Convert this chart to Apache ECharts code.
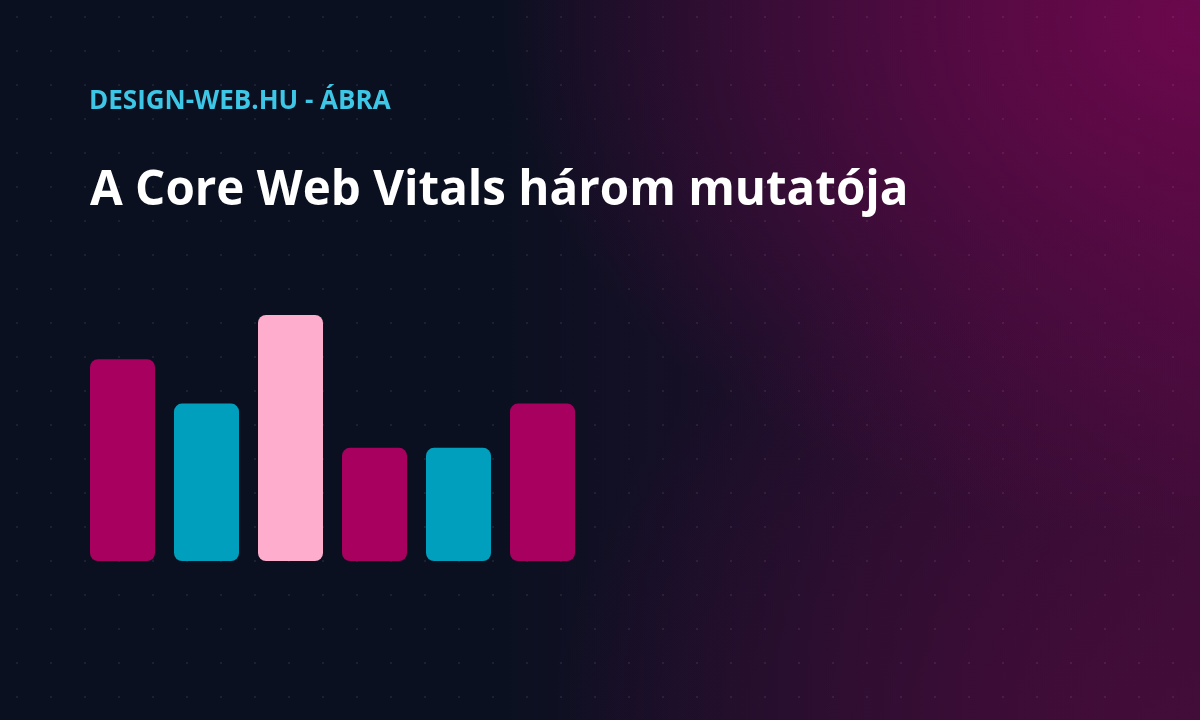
<!DOCTYPE html>
<html>

<head>
    <title>A Core Web Vitals három mutatója</title>
    <meta charset="utf-8">
    <script src="https://cdn.jsdelivr.net/npm/echarts@6/dist/echarts.min.js"></script>
    <style>
        html, body { margin: 0; padding: 0; }
        body {
            width: 1200px;
            height: 720px;
            overflow: hidden;
            /* faint dot grid + magenta glow on the right */
            background:
                radial-gradient(circle, rgba(255,255,255,0.07) 1px, transparent 1.5px) 0 0 / 34px 34px,
                radial-gradient(ellipse 700px 520px at 1200px 20px, rgba(110,8,78,0.95), rgba(110,8,78,0) 100%),
                radial-gradient(ellipse 600px 500px at 1150px 720px, rgba(70,12,58,0.8), rgba(70,12,58,0) 100%),
                linear-gradient(90deg, #0a1020 0%, #0b1020 42%, #1c0f2a 66%, #3a0c36 100%);
        }
    </style>
</head>

<body>
    <!-- chart container -->
    <div id="main" style="width: 1200px;height:720px;"></div>

    <script type="text/javascript">
        // bar data (heights, tallest = 100)
        var categories = ['1', '2', '3', '4', '5', '6'];
        var values = [82, 64, 100, 46, 46, 64];
        var barColors = ['#a8005f', '#009fbd', '#ffadcc', '#a8005f', '#009fbd', '#a8005f'];

        var myChart = echarts.init(document.getElementById('main'));

        var option = {
            backgroundColor: 'transparent',
            title: [{
                text: 'DESIGN-WEB.HU - ÁBRA',
                left: 84,
                top: 84,
                textStyle: {
                    color: '#3ec6e6',
                    fontSize: 26,
                    fontWeight: 'bold',
                    fontFamily: 'Open Sans'
                }
            }, {
                text: 'A Core Web Vitals három mutatója',
                left: 85,
                top: 162,
                textStyle: {
                    color: '#ffffff',
                    fontSize: 47.5,
                    fontWeight: 'bold',
                    fontFamily: 'Open Sans'
                }
            }],
            grid: {
                left: 80.5,
                top: 315,
                width: 504,
                height: 246
            },
            xAxis: {
                type: 'category',
                data: categories,
                show: false
            },
            yAxis: {
                type: 'value',
                min: 0,
                max: 100,
                show: false
            },
            series: [{
                type: 'bar',
                barWidth: 65,
                data: values.map(function (v, i) {
                    return { value: v, itemStyle: { color: barColors[i] } };
                }),
                itemStyle: {
                    borderRadius: 8
                },
                silent: true
            }]
        };

        myChart.setOption(option);
    </script>
</body>

</html>
